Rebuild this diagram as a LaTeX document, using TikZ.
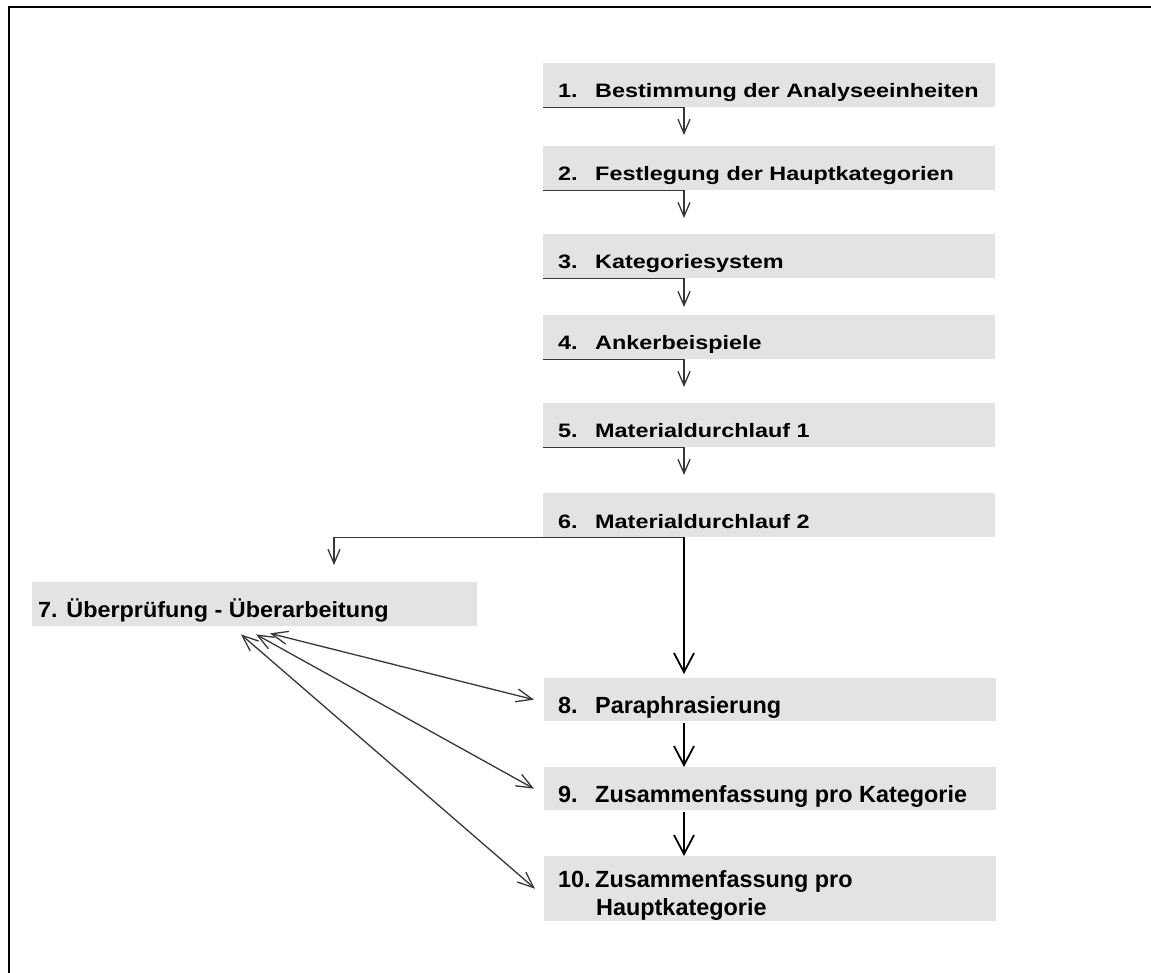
\documentclass[tikz,border=0pt]{standalone}
\usepackage{fontspec}
\setmainfont{Liberation Sans}
\usetikzlibrary{arrows.meta,calc}

\definecolor{boxgray}{RGB}{227,227,227}
\definecolor{linegray}{RGB}{55,55,55}

% labels in the upper steps are set a little lower than wide
\newcommand{\lowtext}[1]{\scalebox{1}[0.83]{#1}}
\newcommand{\midtext}[1]{\scalebox{1}[0.94]{#1}}

\tikzset{
  stepbox/.style={fill=boxgray, draw=none, minimum width=452pt, minimum height=44pt,
                  inner sep=0pt, anchor=north west},
  lbl/.style={anchor=base west, inner sep=0pt, text=black,
              font=\fontsize{23.4pt}{28pt}\selectfont\bfseries},
  flowthin/.style={draw=linegray, line width=1.3pt,
                   -{Straight Barb[length=14pt,width=12pt]}},
  flowthick/.style={draw=black, line width=1.8pt,
                    -{Straight Barb[length=19pt,width=20pt]}},
  twoway/.style={draw=linegray, line width=1.3pt,
                 {Straight Barb[length=16pt,width=13pt]}-{Straight Barb[length=16pt,width=13pt]}},
}

\begin{document}
\begin{tikzpicture}[x=1pt,y=-1pt]
\useasboundingbox (0,0) rectangle (1151,973);

% frame (left and top edges)
\draw[line width=2.7pt] (9,973) -- (9,7) -- (1151,7);

% step boxes
\node[stepbox] (b1) at (543,63) {};
\node[stepbox] (b2) at (543,146) {};
\node[stepbox] (b3) at (543,234) {};
\node[stepbox] (b4) at (543,315) {};
\node[stepbox] (b5) at (543,403) {};
\node[stepbox] (b6) at (543,493) {};
\node[stepbox, minimum width=445pt] (b7) at (32,582) {};
\node[stepbox, minimum height=43pt] (b8) at (544,678) {};
\node[stepbox, minimum height=43pt] (b9) at (544,767) {};
\node[stepbox, minimum height=65pt] (b10) at (544,856) {};

% labels
\node[lbl] (n1) at ($(b1.south west)+(15,-10)$) {\lowtext{1.}};
\node[lbl] (t1) at ($(b1.south west)+(52,-10)$) {\lowtext{Bestimmung der Analyseeinheiten}};
\node[lbl] (n2) at ($(b2.south west)+(15,-10)$) {\lowtext{2.}};
\node[lbl] (t2) at ($(b2.south west)+(52,-10)$) {\lowtext{Festlegung der Hauptkategorien}};
\node[lbl] (n3) at ($(b3.south west)+(15,-10)$) {\lowtext{3.}};
\node[lbl] (t3) at ($(b3.south west)+(52,-10)$) {\lowtext{Kategoriesystem}};
\node[lbl] (n4) at ($(b4.south west)+(15,-10)$) {\lowtext{4.}};
\node[lbl] (t4) at ($(b4.south west)+(52,-10)$) {\lowtext{Ankerbeispiele}};
\node[lbl] (n5) at ($(b5.south west)+(15,-10)$) {\lowtext{5.}};
\node[lbl] (t5) at ($(b5.south west)+(52,-10)$) {\lowtext{Materialdurchlauf 1}};
\node[lbl] (n6) at ($(b6.south west)+(15,-9)$) {\lowtext{6.}};
\node[lbl] (t6) at ($(b6.south west)+(52,-9)$) {\lowtext{Materialdurchlauf 2}};
\node[lbl] (t7) at ($(b7.south west)+(6,-9)$) {\midtext{7. Überprüfung - Überarbeitung}};
\node[lbl] (n8) at ($(b8.south west)+(14,-7.5)$) {8.};
\node[lbl] (t8) at ($(b8.south west)+(51,-7.5)$) {Paraphrasierung};
\node[lbl] (n9) at ($(b9.south west)+(14,-7.5)$) {9.};
\node[lbl] (t9) at ($(b9.south west)+(51,-7.5)$) {Zusammenfassung pro Kategorie};
\node[lbl] (n10) at ($(b10.north west)+(14,31)$) {10.};
\node[lbl] (t10a) at ($(b10.north west)+(51,31)$) {Zusammenfassung pro};
\node[lbl] (t10b) at ($(b10.north west)+(52,59)$) {Hauptkategorie};

% vertical spine of the flow
\coordinate (spine) at (684,0);

% steps 1 to 6
\foreach \a/\b/\gap in {b1/b2/11, b2/b3/16, b3/b4/8, b4/b5/16, b5/b6/18}
  \draw[flowthin, shorten >=\gap pt] (\a.south west) -| (spine |- \b.north);

% branch from step 6 to step 7
\coordinate (drop7) at ($(b7.north west)+(302,0)$);
\draw[flowthin, shorten >=17pt] (b6.south west -| spine) -| (drop7);

% steps 6 to 10
\draw[flowthick, shorten >=4pt] (b6.south west -| spine) -- (spine |- b8.north);
\draw[flowthick, shorten <=2pt] (b8.south west -| spine) -- (spine |- b9.north);
\draw[flowthick, shorten <=2pt] (b9.south west -| spine) -- (spine |- b10.north);

% feedback between step 7 and steps 8 to 10
\coordinate (e8) at ($(b7.south west)+(238,7)$);
\coordinate (e9) at ($(b7.south west)+(224,8)$);
\coordinate (e10) at ($(b7.south west)+(209,8)$);
\draw[twoway] (e8) -- ($(b8.west)+(-10,0)$);
\draw[twoway] (e9) -- ($(b9.west)+(-10,0)$);
\draw[twoway] (e10) -- ($(b10.west)+(-9,0)$);
\end{tikzpicture}
\end{document}
